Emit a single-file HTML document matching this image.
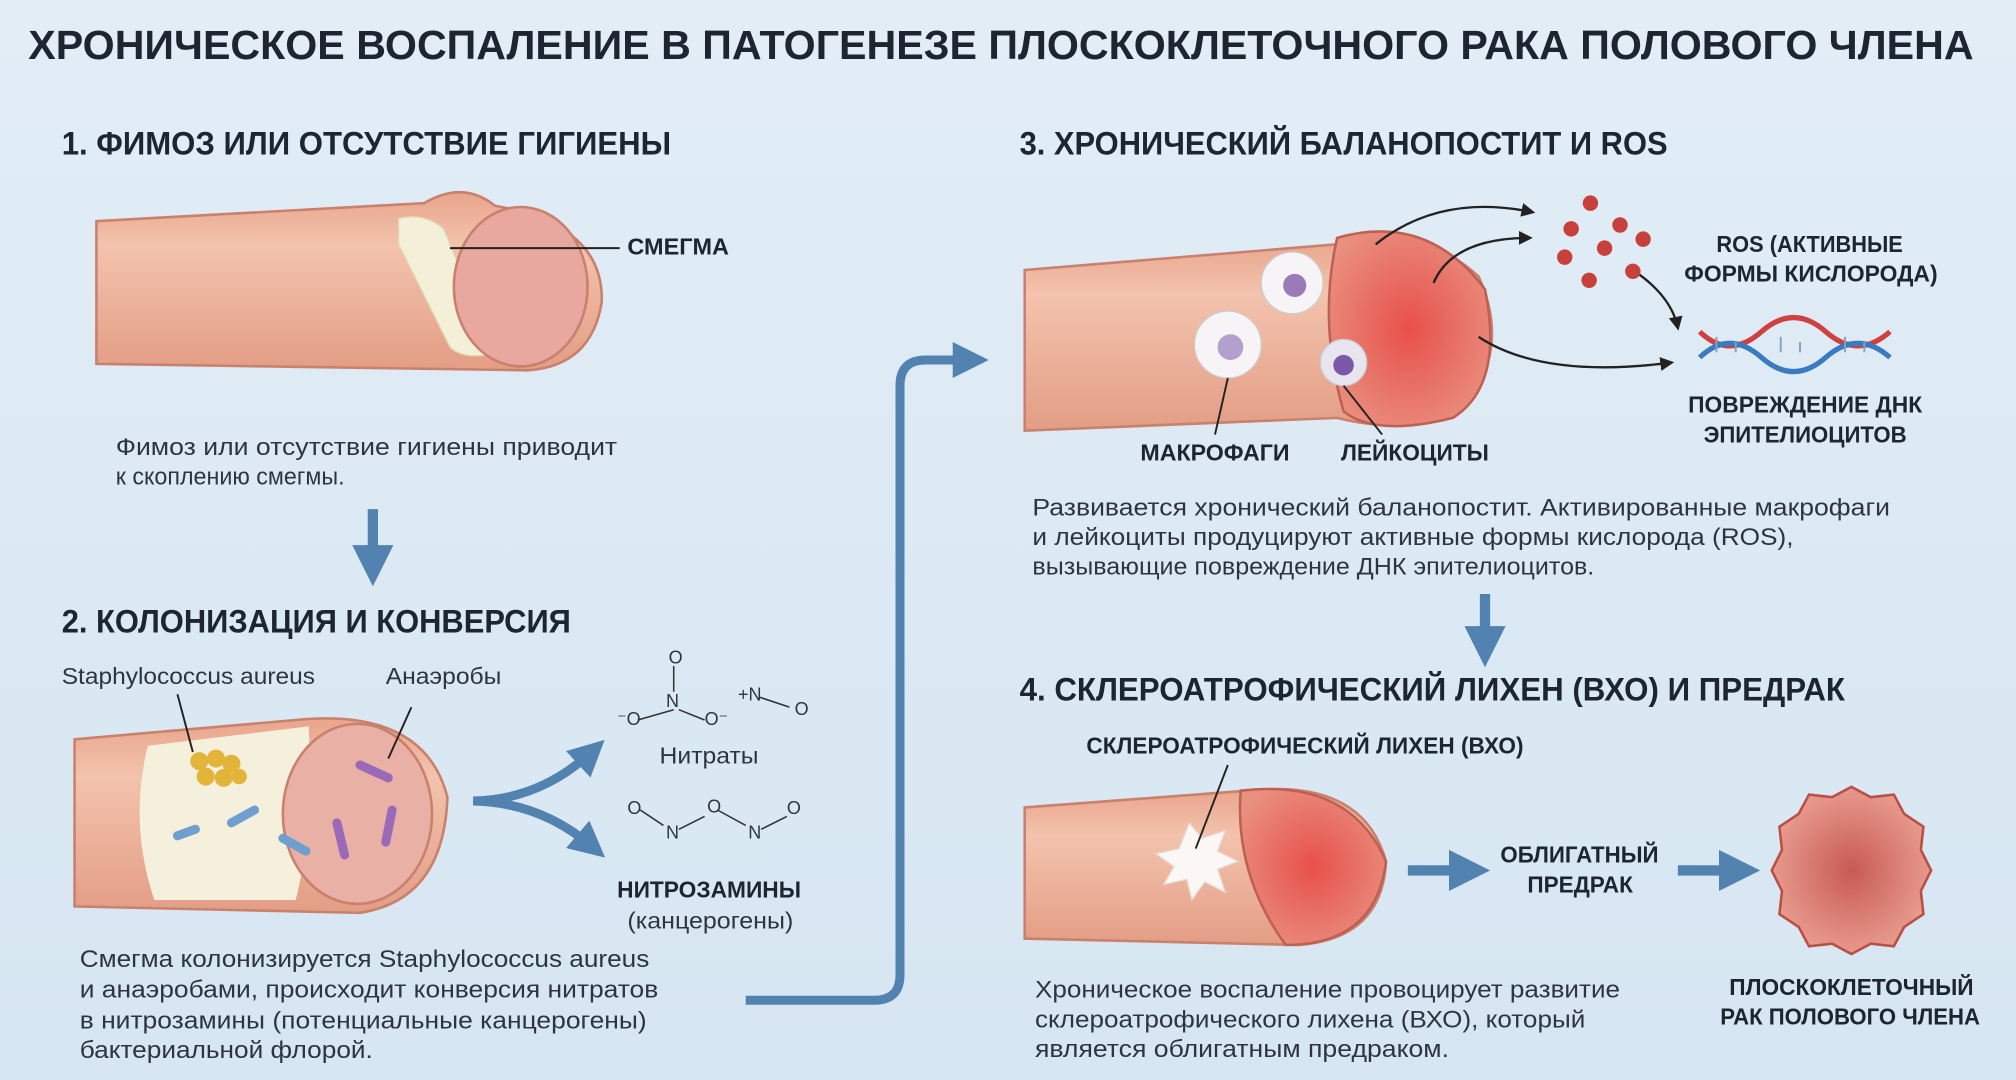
<!DOCTYPE html>
<html><head><meta charset="utf-8"><style>
html,body{margin:0;padding:0;width:2016px;height:1080px;overflow:hidden;background:#dde9f3}
svg{display:block}
.h{font-family:"Liberation Sans",sans-serif;font-weight:bold;fill:#1c2530}
.t{font-family:"Liberation Sans",sans-serif;fill:#2e3540}
</style></head><body>
<svg width="2016" height="1080" viewBox="0 0 1568 840" xmlns="http://www.w3.org/2000/svg">
<defs>
<linearGradient id="bg" x1="0" y1="0" x2="0" y2="1"><stop offset="0" stop-color="#e2edf6"/><stop offset="1" stop-color="#d6e6f2"/></linearGradient>
<linearGradient id="skin" x1="0" y1="0" x2="0" y2="1"><stop offset="0" stop-color="#e9a48c"/><stop offset="0.3" stop-color="#f3c3ad"/><stop offset="1" stop-color="#e39d85"/></linearGradient>
<radialGradient id="red" cx="0.5" cy="0.5" r="0.6"><stop offset="0" stop-color="#e8504a"/><stop offset="1" stop-color="#e99080"/></radialGradient>
<radialGradient id="tum" cx="0.5" cy="0.5" r="0.5"><stop offset="0" stop-color="#c85a55"/><stop offset="1" stop-color="#e79a8c"/></radialGradient>
<marker id="ah" viewBox="0 0 10 10" refX="5" refY="5" markerWidth="4" markerHeight="4" orient="auto"><path d="M0,0L10,5L0,10z" fill="#5282b0"/></marker>
<marker id="ak" viewBox="0 0 10 10" refX="8" refY="5" markerWidth="6" markerHeight="6" orient="auto"><path d="M0,0L10,5L0,10z" fill="#222"/></marker>
</defs>
<rect width="1568" height="840" fill="url(#bg)"/>
<text class="h" x="22" y="46" font-size="32" textLength="1513" lengthAdjust="spacingAndGlyphs">ХРОНИЧЕСКОЕ ВОСПАЛЕНИЕ В ПАТОГЕНЕЗЕ ПЛОСКОКЛЕТОЧНОГО РАКА ПОЛОВОГО ЧЛЕНА</text>

<!-- Section 1 -->
<text class="h" x="48" y="120" font-size="25" textLength="474" lengthAdjust="spacingAndGlyphs">1. ФИМОЗ ИЛИ ОТСУТСТВИЕ ГИГИЕНЫ</text>
<path d="M75,172 L330,158 Q360,140 385,160 Q470,175 468,235 Q460,285 410,288 L75,283 Z" fill="url(#skin)" stroke="#c9806c" stroke-width="2"/>
<path d="M310,170 Q330,165 345,178 L385,275 Q360,280 350,270 Q330,230 310,190 Z" fill="#f3efd8" stroke="#e0d8b0"/>
<ellipse cx="405" cy="223" rx="52" ry="62" fill="#e8a8a0" stroke="#c9806c" stroke-width="2"/>
<line x1="350" y1="193" x2="482" y2="193" stroke="#222" stroke-width="1.5"/>
<text class="h" x="488" y="198" font-size="18" textLength="79" lengthAdjust="spacingAndGlyphs">СМЕГМА</text>
<text class="t" x="90" y="354" font-size="19" textLength="390" lengthAdjust="spacingAndGlyphs">Фимоз или отсутствие гигиены приводит</text>
<text class="t" x="90" y="377" font-size="19" textLength="178" lengthAdjust="spacingAndGlyphs">к скоплению смегмы.</text>
<line x1="290" y1="396" x2="290" y2="440" stroke="#5282b0" stroke-width="8" marker-end="url(#ah)"/>

<!-- Section 2 -->
<text class="h" x="48" y="492" font-size="25" textLength="396" lengthAdjust="spacingAndGlyphs">2. КОЛОНИЗАЦИЯ И КОНВЕРСИЯ</text>
<text class="t" x="48" y="532" font-size="18" textLength="197" lengthAdjust="spacingAndGlyphs">Staphylococcus aureus</text>
<text class="t" x="300" y="532" font-size="18" textLength="90" lengthAdjust="spacingAndGlyphs">Анаэробы</text>
<path d="M58,575 L230,560 Q330,550 348,620 Q345,700 280,710 L58,705 Z" fill="url(#skin)" stroke="#c9806c" stroke-width="2"/>
<path d="M115,580 L240,565 Q245,640 230,700 L120,700 Q100,640 115,580Z" fill="#f5f0dc"/>
<ellipse cx="278" cy="633" rx="58" ry="70" fill="#e9b0a6" stroke="#c9806c" stroke-width="2"/>
<g fill="#e2b43a"><circle cx="155" cy="592" r="7"/><circle cx="168" cy="590" r="7"/><circle cx="180" cy="594" r="7"/><circle cx="160" cy="604" r="7"/><circle cx="174" cy="605" r="7"/><circle cx="186" cy="604" r="6"/></g>
<g stroke="#6f9fd0" stroke-width="7" stroke-linecap="round" fill="none"><path d="M180,640l18,-10"/><path d="M220,652l18,10"/><path d="M138,650l14,-5"/></g>
<g stroke="#9a6ab8" stroke-width="7" stroke-linecap="round" fill="none"><path d="M280,595l22,10"/><path d="M305,630l-5,25"/><path d="M262,640l6,25"/></g>
<line x1="302" y1="590" x2="320" y2="550" stroke="#222" stroke-width="1.5"/>
<line x1="150" y1="585" x2="138" y2="540" stroke="#222" stroke-width="1.5"/>
<path d="M368,623 Q420,622 460,585" stroke="#5282b0" stroke-width="7" fill="none" marker-end="url(#ah)"/>
<path d="M368,623 Q420,624 460,658" stroke="#5282b0" stroke-width="7" fill="none" marker-end="url(#ah)"/>
<g class="t" font-size="14">
<text x="520" y="516">O</text><text x="518" y="550">N</text><text x="480" y="564">⁻O</text><text x="548" y="564">O⁻</text><text x="574" y="545">+N</text><text x="618" y="556">O</text>
<text x="488" y="633">O</text><text x="518" y="652">N</text><text x="550" y="632">O</text><text x="582" y="652">N</text><text x="612" y="633">O</text>
</g>
<g stroke="#333" stroke-width="1.2" fill="none"><path d="M524,518v20M524,552l-28,8M528,552l20,8M590,542l24,8"/><path d="M498,630l18,12M528,645l20,-10M558,630l22,12M592,645l20,-10"/></g>
<text class="t" x="513" y="594" font-size="18" textLength="77" lengthAdjust="spacingAndGlyphs">Нитраты</text>
<text class="h" x="480" y="698" font-size="18" textLength="143" lengthAdjust="spacingAndGlyphs">НИТРОЗАМИНЫ</text>
<text class="t" x="488" y="722" font-size="18" textLength="129" lengthAdjust="spacingAndGlyphs">(канцерогены)</text>
<text class="t" x="62" y="752" font-size="19" textLength="443" lengthAdjust="spacingAndGlyphs">Смегма колонизируется Staphylococcus aureus</text>
<text class="t" x="62" y="776" font-size="19" textLength="450" lengthAdjust="spacingAndGlyphs">и анаэробами, происходит конверсия нитратов</text>
<text class="t" x="62" y="800" font-size="19" textLength="441" lengthAdjust="spacingAndGlyphs">в нитрозамины (потенциальные канцерогены)</text>
<text class="t" x="62" y="823" font-size="19" textLength="228" lengthAdjust="spacingAndGlyphs">бактериальной флорой.</text>
<path d="M580,778 L680,778 Q700,778 700,758 L700,300 Q700,280 720,280 L755,280" stroke="#5282b0" stroke-width="7" fill="none" marker-end="url(#ah)"/>

<!-- Section 3 -->
<text class="h" x="793" y="120" font-size="25" textLength="504" lengthAdjust="spacingAndGlyphs">3. ХРОНИЧЕСКИЙ БАЛАНОПОСТИТ И ROS</text>
<path d="M797,210 L1040,190 Q1100,170 1150,215 Q1175,270 1140,315 Q1100,340 1040,325 L797,335 Z" fill="url(#skin)" stroke="#c9806c" stroke-width="2"/>
<path d="M1040,185 Q1110,165 1155,225 Q1170,300 1130,325 Q1070,340 1045,320 Q1025,250 1040,185Z" fill="url(#red)" stroke="#c06055" stroke-width="2"/>
<circle cx="1005" cy="220" r="24" fill="#f6f4f6" stroke="#ccc"/><circle cx="1007" cy="222" r="9" fill="#9a7ab8"/>
<circle cx="955" cy="268" r="26" fill="#f6f4f6" stroke="#ccc"/><circle cx="957" cy="270" r="10" fill="#b4a0cc"/>
<circle cx="1045" cy="282" r="18" fill="#e8e4f0" stroke="#ccc"/><circle cx="1045" cy="284" r="8" fill="#7a5aa8"/>
<line x1="955" y1="294" x2="945" y2="338" stroke="#222" stroke-width="1.5"/>
<line x1="1045" y1="300" x2="1075" y2="338" stroke="#222" stroke-width="1.5"/>
<text class="h" x="887" y="358" font-size="18" textLength="116" lengthAdjust="spacingAndGlyphs">МАКРОФАГИ</text>
<text class="h" x="1043" y="358" font-size="18" textLength="115" lengthAdjust="spacingAndGlyphs">ЛЕЙКОЦИТЫ</text>
<path d="M1070,190 Q1120,150 1192,165" stroke="#222" stroke-width="1.8" fill="none" marker-end="url(#ak)"/>
<path d="M1115,220 Q1130,185 1190,185" stroke="#222" stroke-width="1.8" fill="none" marker-end="url(#ak)"/>
<path d="M1150,262 Q1200,295 1300,282" stroke="#222" stroke-width="1.8" fill="none" marker-end="url(#ak)"/>
<path d="M1270,210 Q1300,230 1305,255" stroke="#222" stroke-width="1.8" fill="none" marker-end="url(#ak)"/>
<g fill="#c8403c"><circle cx="1237" cy="158" r="6"/><circle cx="1260" cy="175" r="6"/><circle cx="1222" cy="178" r="6"/><circle cx="1248" cy="193" r="6"/><circle cx="1278" cy="186" r="6"/><circle cx="1217" cy="200" r="6"/><circle cx="1236" cy="218" r="6"/><circle cx="1270" cy="211" r="6"/></g>
<text class="h" x="1335" y="196" font-size="18" textLength="145" lengthAdjust="spacingAndGlyphs">ROS (АКТИВНЫЕ</text>
<text class="h" x="1310" y="219" font-size="18" textLength="197" lengthAdjust="spacingAndGlyphs">ФОРМЫ КИСЛОРОДА)</text>
<path d="M1322,258 Q1345,280 1370,258 T1420,258 T1470,258" stroke="#d04040" stroke-width="4" fill="none"/>
<path d="M1322,278 Q1345,256 1370,278 T1420,278 T1470,278" stroke="#3a7ac0" stroke-width="4" fill="none"/>
<g stroke="#8aa0c0" stroke-width="1.5"><path d="M1335,262v12M1350,266v8M1385,262v12M1400,266v8M1435,262v12M1450,266v8"/></g>
<text class="h" x="1313" y="321" font-size="18" textLength="182" lengthAdjust="spacingAndGlyphs">ПОВРЕЖДЕНИЕ ДНК</text>
<text class="h" x="1325" y="344" font-size="18" textLength="158" lengthAdjust="spacingAndGlyphs">ЭПИТЕЛИОЦИТОВ</text>
<text class="t" x="803" y="401" font-size="19" textLength="667" lengthAdjust="spacingAndGlyphs">Развивается хронический баланопостит. Активированные макрофаги</text>
<text class="t" x="803" y="424" font-size="19" textLength="592" lengthAdjust="spacingAndGlyphs">и лейкоциты продуцируют активные формы кислорода (ROS),</text>
<text class="t" x="803" y="447" font-size="19" textLength="437" lengthAdjust="spacingAndGlyphs">вызывающие повреждение ДНК эпителиоцитов.</text>
<line x1="1155" y1="462" x2="1155" y2="503" stroke="#5282b0" stroke-width="8" marker-end="url(#ah)"/>

<!-- Section 4 -->
<text class="h" x="793" y="545" font-size="25" textLength="642" lengthAdjust="spacingAndGlyphs">4. СКЛЕРОАТРОФИЧЕСКИЙ ЛИХЕН (ВХО) И ПРЕДРАК</text>
<text class="h" x="845" y="586" font-size="18" textLength="340" lengthAdjust="spacingAndGlyphs">СКЛЕРОАТРОФИЧЕСКИЙ ЛИХЕН (ВХО)</text>
<path d="M797,628 L970,615 Q1060,605 1078,670 Q1075,730 1010,735 L797,730 Z" fill="url(#skin)" stroke="#c9806c" stroke-width="2"/>
<path d="M965,615 Q1050,605 1078,670 Q1070,735 1000,735 Q960,680 965,615Z" fill="url(#red)" stroke="#c06055" stroke-width="2"/>
<path d="M925,640 l10,12 18,-6 -6,16 16,8 -16,6 6,18 -16,-8 -10,14 -4,-16 -18,4 8,-14 -14,-10 18,-4z" fill="#fbf7f4" stroke="#e8d8d0"/>
<line x1="930" y1="660" x2="955" y2="595" stroke="#222" stroke-width="1.5"/>
<line x1="1095" y1="677" x2="1143" y2="677" stroke="#5282b0" stroke-width="8" marker-end="url(#ah)"/>
<text class="h" x="1167" y="671" font-size="18" textLength="123" lengthAdjust="spacingAndGlyphs">ОБЛИГАТНЫЙ</text>
<text class="h" x="1188" y="694" font-size="18" textLength="82" lengthAdjust="spacingAndGlyphs">ПРЕДРАК</text>
<line x1="1305" y1="677" x2="1353" y2="677" stroke="#5282b0" stroke-width="8" marker-end="url(#ah)"/>
<path d="M1440,612 l15,8 18,-2 8,15 15,10 -2,18 8,16 -8,16 2,18 -15,10 -8,15 -18,-2 -15,8 -15,-8 -18,2 -8,-15 -15,-10 2,-18 -8,-16 8,-16 -2,-18 15,-10 8,-15 18,2z" fill="url(#tum)" stroke="#b85048" stroke-width="2"/>
<text class="h" x="1345" y="774" font-size="18" textLength="190" lengthAdjust="spacingAndGlyphs">ПЛОСКОКЛЕТОЧНЫЙ</text>
<text class="h" x="1338" y="797" font-size="18" textLength="202" lengthAdjust="spacingAndGlyphs">РАК ПОЛОВОГО ЧЛЕНА</text>
<text class="t" x="805" y="776" font-size="19" textLength="455" lengthAdjust="spacingAndGlyphs">Хроническое воспаление провоцирует развитие</text>
<text class="t" x="805" y="799" font-size="19" textLength="428" lengthAdjust="spacingAndGlyphs">склероатрофического лихена (ВХО), который</text>
<text class="t" x="805" y="822" font-size="19" textLength="322" lengthAdjust="spacingAndGlyphs">является облигатным предраком.</text>
</svg>
</body></html>
